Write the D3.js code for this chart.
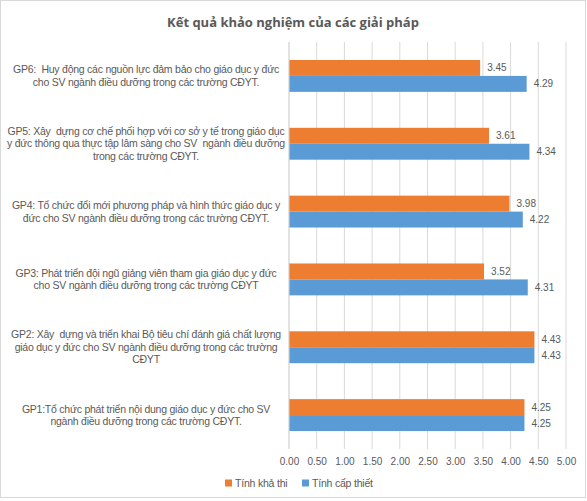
<!DOCTYPE html>
<html>
<head>
<meta charset="utf-8">
<script src="https://cdn.jsdelivr.net/npm/d3@7"></script>
<style>
  body { margin: 0; background: #fff; }
  svg text { font-family: "Liberation Sans", Arial, sans-serif; }
</style>
</head>
<body>
<div id="chart"></div>
<script>
// categories top to bottom, each as wrapped lines
const categories = ["GP6", "GP5", "GP4", "GP3", "GP2", "GP1"];
const categoryLabels = [
    ["GP6:  Huy động các nguồn lực đảm bảo cho giáo dục y đức", "cho SV ngành điều dưỡng trong các trường CĐYT."],
    ["GP5: Xây  dựng cơ chế phối hợp với cơ sở y tế trong giáo dục", "y đức thông qua thực tập lâm sàng cho SV  ngành điều dưỡng", "trong các trường CĐYT."],
    ["GP4: Tổ chức đổi mới phương pháp và hình thức giáo dục y", "đức cho SV ngành điều dưỡng trong các trường CĐYT."],
    ["GP3: Phát triển đội ngũ giảng viên tham gia giáo dục y đức", "cho SV ngành điều dưỡng trong các trường CĐYT"],
    ["GP2: Xây  dựng và triển khai Bộ tiêu chí đánh giá chất lượng", "giáo dục y đức cho SV ngành điều dưỡng trong các trường", "CĐYT"],
    ["GP1:Tổ chức phát triển nội dung giáo dục y đức cho SV", "ngành điều dưỡng trong các trường CĐYT."]
];
const khaThi   = [3.45, 3.61, 3.98, 3.52, 4.43, 4.25];
const capThiet = [4.29, 4.34, 4.22, 4.31, 4.43, 4.25];
const xTicks = [0, 0.5, 1, 1.5, 2, 2.5, 3, 3.5, 4, 4.5, 5];

const SERIES = [
    { key: "khaThi",   name: "Tính khả thi",   color: "#ED7D31", values: khaThi },
    { key: "capThiet", name: "Tính cấp thiết", color: "#5B9BD5", values: capThiet },
];

const W = 587, H = 501;
const margin = { top: 42, right: 21, bottom: 52, left: 289 };
const width  = W - margin.left - margin.right;
const height = H - margin.top  - margin.bottom;
const TEXT = "#595959", GRID = "#D9D9D9";

const svg = d3.select("#chart").append("svg")
    .attr("width", W).attr("height", H);

svg.append("rect")
    .attr("x", 0.5).attr("y", 0.5)
    .attr("width", W - 2).attr("height", H - 4)
    .attr("fill", "#fff").attr("stroke", GRID);

svg.append("text")
    .attr("x", 293).attr("y", 27)
    .attr("text-anchor", "middle")
    .style("font-family", "'Open Sans', 'Liberation Sans', sans-serif")
    .style("font-size", "13px").style("font-weight", "bold")
    .style("fill", TEXT)
    .text("Kết quả khảo nghiệm của các giải pháp");

const g = svg.append("g").attr("transform", `translate(${margin.left},${margin.top})`);

const x = d3.scaleLinear().domain([0, 5]).range([0, width]);
const y = d3.scaleBand().domain(categories).range([0, height]).paddingInner(0.53).paddingOuter(0.265);
const ySub = d3.scaleBand().domain(SERIES.map(s => s.key)).range([0, y.bandwidth()]);

// gridlines
g.append("g").selectAll("line")
    .data(xTicks)
    .join("line")
    .attr("x1", d => x(d)).attr("x2", d => x(d))
    .attr("y1", 0).attr("y2", height)
    .attr("stroke", GRID).attr("stroke-width", 1);

// x axis labels
const xAxis = g.append("g")
    .attr("transform", `translate(0,${height})`)
    .call(d3.axisBottom(x).tickValues(xTicks).tickFormat(d3.format(".2f")).tickSize(0).tickPadding(9));
xAxis.select(".domain").remove();
xAxis.selectAll("text").style("font-size", "10px").attr("fill", TEXT)
    .style("font-family", "'Liberation Sans', Arial, sans-serif");

// bars
const groups = g.append("g").selectAll("g")
    .data(categories)
    .join("g")
    .attr("transform", d => `translate(0,${y(d)})`);

SERIES.forEach(s => {
    groups.append("rect")
        .attr("x", 0)
        .attr("y", ySub(s.key))
        .attr("height", ySub.bandwidth())
        .attr("width", (d, i) => x(s.values[i]))
        .attr("fill", s.color);
    groups.append("text")
        .attr("x", (d, i) => x(s.values[i]) + 7)
        .attr("y", ySub(s.key) + ySub.bandwidth() / 2)
        .attr("dy", "0.35em")
        .style("font-size", "10px").attr("fill", TEXT)
        .text((d, i) => s.values[i].toFixed(2));
});

// category axis line
g.append("line")
    .attr("x1", 0).attr("x2", 0).attr("y1", 0).attr("y2", height)
    .attr("stroke", GRID);

// category labels (keep the double spaces of the original text)
const LINE_H = 12.5;
g.append("g").selectAll("text")
    .data(categories)
    .join("text")
    .attr("text-anchor", "middle")
    .attr("transform", d => `translate(${146 - margin.left},${y(d) + y.bandwidth() / 2})`)
    .style("font-size", "10.5px").style("letter-spacing", "-0.24px")
    .style("white-space", "pre").attr("fill", TEXT)
    .each(function (d, i) {
        const lines = categoryLabels[i];
        const t = d3.select(this);
        lines.forEach((ln, j) => {
            t.append("tspan")
                .attr("x", 0)
                .attr("y", (j - (lines.length - 1) / 2) * LINE_H)
                .attr("dy", "0.35em")
                .text(ln);
        });
    });

// legend
const legend = svg.append("g").attr("transform", "translate(0,483)");
const legendX = [225, 302];
SERIES.forEach((s, i) => {
    legend.append("rect")
        .attr("x", legendX[i]).attr("y", -3.5)
        .attr("width", 7).attr("height", 7)
        .attr("fill", s.color);
    legend.append("text")
        .attr("x", legendX[i] + 10).attr("y", 0).attr("dy", "0.35em")
        .style("font-size", "10.5px").style("letter-spacing", "-0.2px").attr("fill", TEXT)
        .text(s.name);
});
</script>
</body>
</html>
